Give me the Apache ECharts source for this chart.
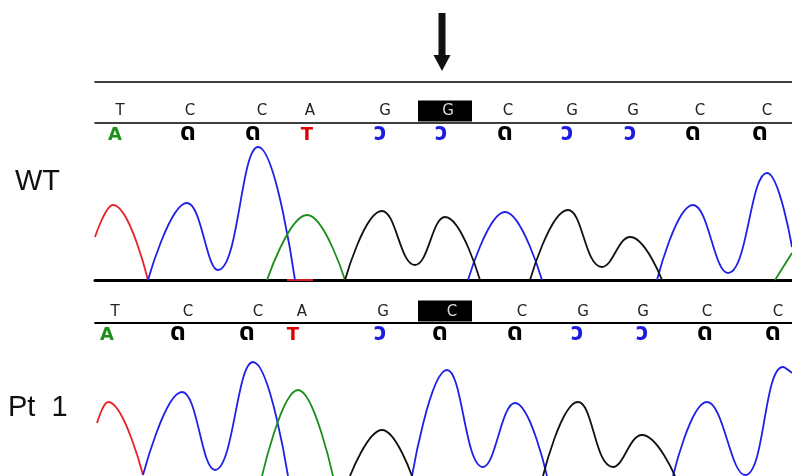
<!DOCTYPE html>
<html><head><meta charset="utf-8">
<script src="https://cdn.jsdelivr.net/npm/echarts@6/dist/echarts.min.js"></script>
<style>html,body{margin:0;padding:0;background:#fff}#c{width:792px;height:476px}</style>
</head><body><div id="c"></div>
<script>
// ---- data (x in scan units, y in signal intensity) ----
const xMax = 697;
const wtBases  = ['T','C','C','A','G','G','C','G','G','C','C'];
const wtBaseX  = [25, 95, 167, 215, 290, 353, 413, 477, 538, 605, 672];
const wtCalls  = ['A','ด','ด','T','ว','ว','ด','ว','ว','ด','ด'];
const wtCallX  = [20, 93, 158, 212, 285, 346, 410, 472, 535, 598, 665];
const pt1Bases = ['T','C','C','A','G','C','C','G','G','C','C'];
const pt1BaseX = [20, 93, 163, 207, 288, 357, 427, 488, 548, 612, 683];
const pt1Calls = ['A','ด','ด','T','ว','ด','ด','ว','ว','ด','ด'];
const pt1CallX = [12, 83, 152, 198, 285, 345, 420, 482, 547, 610, 678];
const mutationIndex = 5;
const arrowX = 347;

// WT traces: each colour is a list of segments of [scan, intensity]
const wtRed   = [[[0,43],[18,75],[53,0]], [[192,0],[218,0]]];
const wtBlue  = [[[53,0],[92,77],[123,10],[163,133],[200,0]],
                 [[373,0],[410,68],[447,0]],
                 [[562,0],[598,75],[633,7],[672,107],[697,33]]];
const wtGreen = [[[172,0],[212,65],[250,0]], [[680,0],[697,27]]];
const wtBlack = [[[250,0],[287,69],[320,15],[350,63],[385,0]],
                 [[435,0],[473,70],[507,13],[535,43],[567,0]]];

// Pt 1 traces
const ptRed   = [[[2,53],[13,74],[48,1]]];
const ptBlue  = [[[48,1],[87,84],[120,6],[158,114],[193,0]],
                 [[317,0],[352,106],[388,9],[420,73],[452,0]],
                 [[578,0],[612,74],[650,1],[688,109],[697,103]]];
const ptGreen = [[[167,0],[203,86],[238,0]]];
const ptBlack = [[[255,0],[287,46],[317,0]],
                 [[448,0],[483,74],[518,9],[547,41],[580,0]]];

// ---- styles ----
const COL = {red:'#e8202a', blue:'#2020e6', green:'#1a901a', black:'#111111'};
const callColor = {'A':COL.green, 'ด':'#000', 'T':'#e00000', 'ว':'#1c1ce0'};

const grids = [
  {left:95, right:0, top:82,  height:41},   // WT header
  {left:95, right:0, top:130, height:150},  // WT trace
  {left:95, right:0, top:300, height:23},   // Pt1 header
  {left:95, right:0, top:326, height:150}   // Pt1 trace
];
function xa(gi, pos, lw){
  return {type:'value', gridIndex:gi, min:0, max:xMax, position:pos,
    axisLine:{show: lw>0, onZero:false, lineStyle:{color:'#000', width:lw}},
    axisTick:{show:false}, axisLabel:{show:false}, splitLine:{show:false}};
}
function ya(gi, max){
  return {type:'value', gridIndex:gi, min:0, max:max, show:false, splitLine:{show:false}};
}
const xAxes = [xa(0,'bottom',1.6), xa(0,'top',1.6), xa(1,'bottom',3), xa(2,'bottom',1.8), xa(3,'bottom',0)];
const yAxes = [ya(0,41), ya(1,150), ya(2,23), ya(3,150)];

const series = [];
function traces(segs, color, xi, yi){
  segs.forEach(s => series.push({type:'line', xAxisIndex:xi, yAxisIndex:yi, data:s,
    smooth:0.45, showSymbol:false, symbol:'none', silent:true, clip:false, z:3,
    lineStyle:{color:color, width:1.8}}));
}
traces(wtRed, COL.red, 2, 1); traces(wtBlue, COL.blue, 2, 1);
traces(wtGreen, COL.green, 2, 1); traces(wtBlack, COL.black, 2, 1);
traces(ptRed, COL.red, 4, 3); traces(ptBlue, COL.blue, 4, 3);
traces(ptGreen, COL.green, 4, 3); traces(ptBlack, COL.black, 4, 3);

function letters(labels, xs, y, xi, yi, colorFn, fontFn){
  series.push({type:'scatter', xAxisIndex:xi, yAxisIndex:yi, clip:false, silent:true, z:5,
    symbolSize:1, itemStyle:{color:'rgba(0,0,0,0)', opacity:1},
    data: labels.map((l,i)=>({name:l, value:[xs[i], y],
      label:Object.assign({color: colorFn(l,i)}, fontFn(l))})),
    label:{show:true, position:'inside', formatter:'{b}'}, labelLayout:{hideOverlap:false}});
}
function box(x, y, xi, yi){
  series.push({type:'scatter', xAxisIndex:xi, yAxisIndex:yi, clip:false, silent:true, z:4,
    symbol:'rect', symbolSize:[54,21], itemStyle:{color:'#000', opacity:1}, data:[[x,y]]});
}
const topFont = () => ({fontSize:15, fontWeight:'normal', fontFamily:'DejaVu Sans'});
const callFont = l => (l==='A' || l==='T')
  ? {fontSize:18, fontWeight:'bold', fontFamily:'DejaVu Sans', offset:[0,1]}
  : {fontSize:25, fontWeight:'bold', fontFamily:'Noto Sans Thai, Loma, Garuda, sans-serif', offset:[0,-1]};

box(wtBaseX[mutationIndex]-3, 12, 0, 0);
box(pt1BaseX[mutationIndex]-7, 12, 3, 2);
letters(wtBases, wtBaseX, 12, 0, 0, (l,i)=> i===mutationIndex ? '#d8d8d8' : '#222', topFont);
letters(wtCalls, wtCallX, -12, 0, 0, l=>callColor[l], callFont);
letters(pt1Bases, pt1BaseX, 11, 3, 2, (l,i)=> i===mutationIndex ? '#d8d8d8' : '#222', topFont);
letters(pt1Calls, pt1CallX, -12, 3, 2, l=>callColor[l], callFont);

// arrow marking the mutation
series.push({type:'scatter', xAxisIndex:0, yAxisIndex:0, clip:false, silent:true, z:5,
  symbol:'path://M5,0 L12,0 L12,42 L17,42 L8.5,58 L0,42 L5,42 Z',
  symbolSize:[17,58], itemStyle:{color:'#111', opacity:1}, data:[[arrowX, 81]]});

const chart = echarts.init(document.getElementById('c'), null, {renderer:'canvas'});
chart.setOption({
  backgroundColor:'#fff',
  animation:false,
  title:[
    {text:'WT', left:15, top:167, padding:0,
     textStyle:{fontSize:29, fontWeight:'normal', color:'#111', fontFamily:'Liberation Sans'}},
    {text:'Pt  1', left:8, top:393, padding:0,
     textStyle:{fontSize:29, fontWeight:'normal', color:'#111', fontFamily:'Liberation Sans'}}
  ],
  grid:grids, xAxis:xAxes, yAxis:yAxes, series:series
});
</script></body></html>
